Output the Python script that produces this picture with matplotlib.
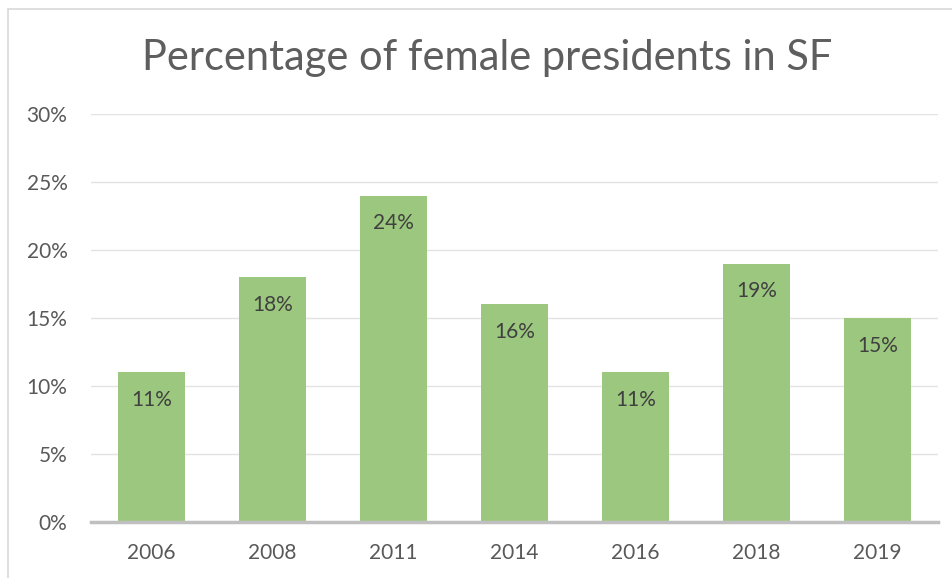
import matplotlib.pyplot as plt
from matplotlib.patches import Rectangle
from matplotlib.ticker import FuncFormatter

years = ['2006', '2008', '2011', '2014', '2016', '2018', '2019']
female_pct = [11, 18, 24, 16, 11, 19, 15]

plt.rcParams['font.family'] = ['Lato', 'DejaVu Sans']

fig = plt.figure(figsize=(9.53, 5.78), dpi=100)
ax = fig.add_axes([0.0955, 0.0969, 0.8885, 0.7059])

bars = ax.bar(years, female_pct, width=0.55, color='#9CC77E', zorder=3)

for b, v in zip(bars, female_pct):
    ax.text(b.get_x() + b.get_width() / 2, v - 1.3, f'{v}%',
            ha='center', va='top', fontsize=15, color='#404040', zorder=4)

ax.set_xlim(-0.5, len(years) - 0.5)
ax.set_ylim(0, 30)
ax.set_yticks(range(0, 31, 5))
ax.yaxis.set_major_formatter(FuncFormatter(lambda v, p: f'{int(v)}%'))
ax.grid(axis='y', color='#E3E3E3', linewidth=1, zorder=0)
for s in ['top', 'right', 'left']:
    ax.spines[s].set_visible(False)
ax.spines['bottom'].set_color('#BFBFBF')
ax.spines['bottom'].set_linewidth(2.5)
ax.spines['bottom'].set_zorder(5)
ax.tick_params(length=0, labelsize=15, labelcolor='#595959')
ax.tick_params(axis='x', pad=15)
ax.tick_params(axis='y', pad=17)

fig.text(0.511, 0.900, 'Percentage of female presidents in SF',
         ha='center', va='center', fontsize=30, color='#5E5E5E')

# chart frame
fig.patches.append(Rectangle((8 / 953, -0.1), 1.1, (578 - 9) / 578 + 0.1,
                             transform=fig.transFigure, fill=False,
                             edgecolor='#D9D9D9', linewidth=1.2))

fig.savefig('out.png', dpi=100)
